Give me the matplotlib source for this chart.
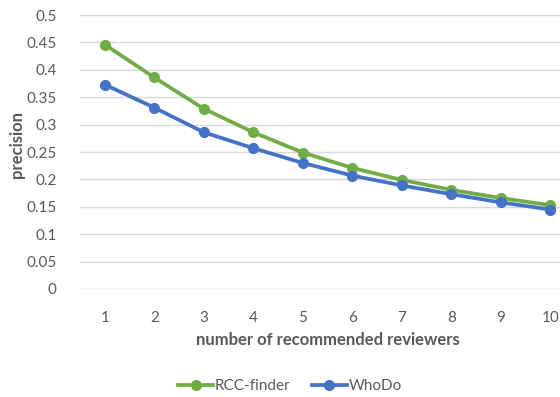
import matplotlib
matplotlib.use("Agg")
import matplotlib.pyplot as plt
from matplotlib.lines import Line2D

reviewers = [1, 2, 3, 4, 5, 6, 7, 8, 9, 10]
rcc_finder = [0.446, 0.386, 0.329, 0.286, 0.249, 0.221, 0.199, 0.181, 0.166, 0.153]
whodo = [0.373, 0.331, 0.286, 0.257, 0.230, 0.207, 0.189, 0.173, 0.158, 0.145]
y_ticks = [0, 0.05, 0.1, 0.15, 0.2, 0.25, 0.3, 0.35, 0.4, 0.45, 0.5]
y_tick_labels = ["0", "0.05", "0.1", "0.15", "0.2", "0.25", "0.3", "0.35", "0.4", "0.45", "0.5"]

GREEN = "#70AD47"
BLUE = "#4472C4"
TEXT = "#595959"
GRID = "#D9D9D9"

plt.rcParams["font.family"] = ["Lato", "DejaVu Sans"]

W, H = 560, 397
fig = plt.figure(figsize=(W / 100, H / 100), dpi=100)
# plot area in pixel coordinates: x 80..575, y 15..289
left, right, top, bottom = 80, 575, 15, 289
ax = fig.add_axes([left / W, 1 - bottom / H, (right - left) / W, (bottom - top) / H])

LW, MS = 2.7, 7.0
ax.plot(reviewers, rcc_finder, color=GREEN, lw=LW, marker="o", ms=MS,
        solid_capstyle="round", zorder=3, label="RCC-finder")
ax.plot(reviewers, whodo, color=BLUE, lw=LW, marker="o", ms=MS,
        solid_capstyle="round", zorder=4, label="WhoDo")

ax.set_xlim(0.5, 10.5)
ax.set_ylim(0, 0.5)
ax.set_yticks(y_ticks)
ax.set_yticklabels(y_tick_labels)
ax.set_xticks(reviewers)
ax.set_xticklabels([str(r) for r in reviewers])

ax.grid(axis="y", color=GRID, lw=1.0)
ax.set_axisbelow(True)
for s in ax.spines.values():
    s.set_visible(False)
ax.tick_params(axis="both", length=0, labelsize=11, colors=TEXT)
ax.tick_params(axis="y", pad=17)
ax.tick_params(axis="x", pad=16)

fig.text(327.5 / W, 1 - 340 / H, "number of recommended reviewers", ha="center",
         va="center", fontsize=12, fontweight="bold", color=TEXT)
fig.text(17 / W, 1 - 145 / H, "precision", ha="center", va="center",
         rotation=90, fontsize=12, fontweight="bold", color=TEXT)

handles = [
    Line2D([], [], color=GREEN, lw=LW, marker="o", ms=MS),
    Line2D([], [], color=BLUE, lw=LW, marker="o", ms=MS),
]
fig.legend(handles, ["RCC-finder", "WhoDo"], loc="center",
           bbox_to_anchor=(290 / W, 1 - 386 / H), ncol=2, frameon=False,
           fontsize=11, labelcolor=TEXT, handlelength=2.3, handletextpad=0.1,
           columnspacing=1.4)

fig.savefig("out.png", dpi=100)
